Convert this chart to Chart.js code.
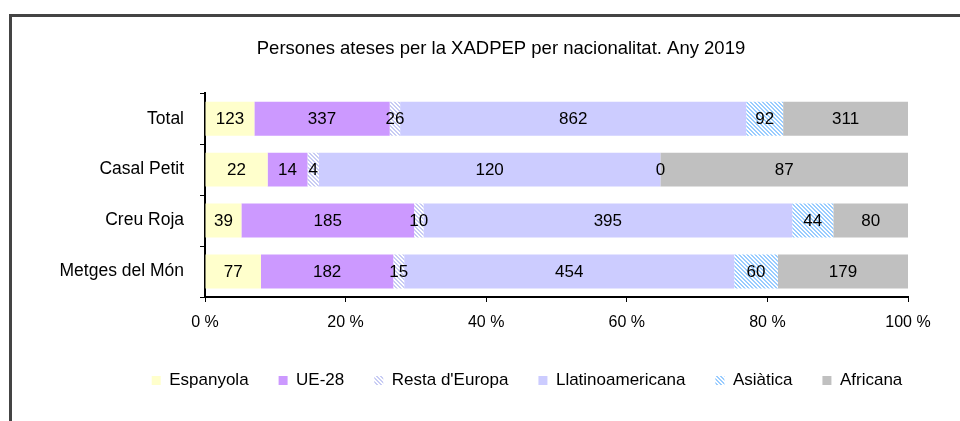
<!DOCTYPE html>
<html lang="ca">
<head>
  <meta charset="UTF-8">
  <title>Persones ateses per la XADPEP per nacionalitat. Any 2019</title>
  <script src="https://cdn.jsdelivr.net/npm/chart.js"></script>
  <style>
    body { margin: 0; background: #fff; }
    .wrap { position: relative; width: 960px; height: 421px; overflow: hidden; }
    /* the chart frame runs off the right and bottom edges */
    .frame { position: absolute; left: 9px; top: 14px; width: 1200px; height: 800px; border: 3px solid #444; }
    canvas { position: absolute; left: 0; top: 0; }
  </style>
</head>
<body>
  <div class="wrap">
    <div class="frame"></div>
    <canvas id="chart" width="960" height="421"></canvas>
  </div>

  <script>
    // data
    const categories = ['Total', 'Casal Petit', 'Creu Roja', 'Metges del Món'];
    const seriesNames = ['Espanyola', 'UE-28', "Resta d'Europa", 'Llatinoamericana', 'Asiàtica', 'Africana'];
    const espanyola = [123, 22, 39, 77];
    const ue28 = [337, 14, 185, 182];
    const restaEuropa = [26, 4, 10, 15];
    const llatinoamericana = [862, 120, 395, 454];
    const asiatica = [92, 0, 44, 60];
    const africana = [311, 87, 80, 179];
    const xTicks = [0, 20, 40, 60, 80, 100];

    const counts = [espanyola, ue28, restaEuropa, llatinoamericana, asiatica, africana];

    // row totals, to turn counts into 100% stacked shares
    const rowTotals = categories.map((c, j) => counts.reduce((s, arr) => s + arr[j], 0));

    // diagonal hatch pattern (white with coloured "\" stripes)
    function hatch(color, period, width) {
      const c = document.createElement('canvas');
      c.width = period; c.height = period;
      const g = c.getContext('2d');
      g.fillStyle = '#fff';
      g.fillRect(0, 0, period, period);
      g.fillStyle = color;
      for (let y = 0; y < period; y++) {
        for (let x = 0; x < period; x++) {
          if (((x - y) % period + period) % period < width) g.fillRect(x, y, 1, 1);
        }
      }
      return document.getElementById('chart').getContext('2d').createPattern(c, 'repeat');
    }

    const colors = [
      '#FFFFCC',
      '#CC99FF',
      hatch('#C8CCF4', 4, 2),
      '#CCCCFF',
      hatch('#99CCFF', 4, 2),
      '#C0C0C0'
    ];

    // draws the raw count in the middle of every segment
    const valueLabels = {
      id: 'valueLabels',
      afterDatasetsDraw(chart) {
        const ctx = chart.ctx;
        ctx.save();
        ctx.font = '17px "Liberation Sans", Arial, sans-serif';
        ctx.fillStyle = '#000';
        ctx.textAlign = 'center';
        ctx.textBaseline = 'middle';
        chart.data.datasets.forEach((ds, i) => {
          chart.getDatasetMeta(i).data.forEach((bar, j) => {
            const p = bar.getProps(['x', 'y', 'base'], true);
            ctx.fillText(ds.counts[j], (p.x + p.base) / 2, p.y + 1);
          });
        });
        ctx.restore();
      }
    };

    // title and legend sit right of the plot centre in the original
    const shiftBlocks = {
      id: 'shiftBlocks',
      afterLayout(chart) {
        if (chart.titleBlock) { chart.titleBlock.left += 47; chart.titleBlock.right += 47; }
        if (chart.legend) { chart.legend.left += 73; chart.legend.right += 73; }
      }
    };

    Chart.defaults.font.family = '"Liberation Sans", Arial, sans-serif';
    Chart.defaults.color = '#000';

    new Chart(document.getElementById('chart'), {
      type: 'bar',
      data: {
        labels: categories,
        datasets: seriesNames.map((name, i) => ({
          label: name,
          data: counts[i].map((v, j) => v / rowTotals[j] * 100),
          counts: counts[i],
          backgroundColor: colors[i],
          borderWidth: 0,
          categoryPercentage: 1,
          barPercentage: 0.667
        }))
      },
      options: {
        indexAxis: 'y',
        responsive: false,
        animation: false,
        layout: { padding: { left: 0, right: 52, top: 0, bottom: 22 } },
        scales: {
          x: {
            stacked: true,
            min: 0,
            max: 100,
            afterBuildTicks: s => { s.ticks = xTicks.map(v => ({ value: v })); },
            ticks: { callback: v => v + ' %', font: { size: 16 }, padding: 11, maxRotation: 0 },
            grid: { drawOnChartArea: false, tickLength: 5, color: '#000' },
            border: { color: '#000', width: 2 },
            afterFit: s => { s.height = 45; }
          },
          y: {
            stacked: true,
            ticks: { font: { size: 17.5 }, padding: 16 },
            grid: { offset: true, drawOnChartArea: false, tickLength: 5, color: '#000' },
            border: { color: '#000', width: 2 },
            afterFit: s => { s.width = 205; }
          }
        },
        plugins: {
          title: {
            display: true,
            text: 'Persones ateses per la XADPEP per nacionalitat. Any 2019',
            font: { size: 18.5, weight: 'normal' },
            padding: { top: 38, bottom: 33 }
          },
          legend: {
            position: 'bottom',
            labels: { boxWidth: 9, boxHeight: 9, padding: 30, font: { size: 17 } }
          },
          tooltip: { enabled: false }
        }
      },
      plugins: [valueLabels, shiftBlocks]
    });
  </script>
</body>
</html>
